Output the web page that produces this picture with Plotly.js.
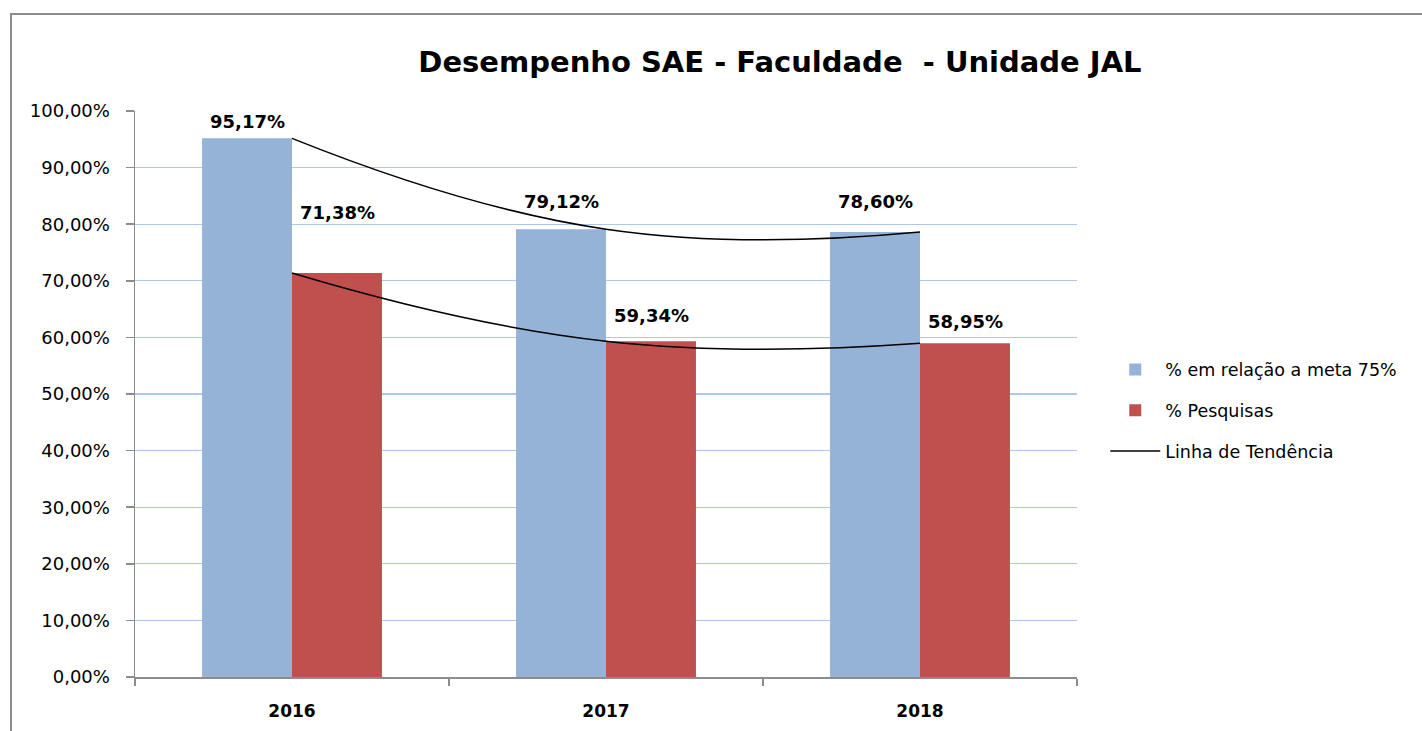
<!DOCTYPE html>
<html>
<head>
<meta charset="utf-8">
<script src="https://cdn.plot.ly/plotly-3.0.1.min.js"></script>
<style>
  html, body { margin: 0; padding: 0; background: #fff; }
  #frame { position: absolute; left: 10px; top: 13px; width: 1420px; height: 730px;
           border-left: 2px solid #8c8c8c; border-top: 2px solid #8c8c8c; pointer-events: none; z-index: 5; }
  #chart { position: absolute; left: 0; top: 0; width: 1422px; height: 731px; }
</style>
</head>
<body>
<div id="chart"></div>
<div id="frame"></div>
<script>
const years = ['2016', '2017', '2018'];
const metaValues = [95.17, 79.12, 78.60];
const pesquisaValues = [71.38, 59.34, 58.95];
const seriesNames = ['% em relação a meta 75%', '% Pesquisas', 'Linha de Tendência'];
const yTicks = [0, 10, 20, 30, 40, 50, 60, 70, 80, 90, 100];

const blue = '#95B3D7';
const red = '#C0504D';
const font = 'Tahoma, "DejaVu Sans", sans-serif';

function fmt(v) { return v.toFixed(2).replace('.', ',') + '%'; }

const traces = [
  { type: 'bar', name: seriesNames[0], x: years, y: metaValues, legendgroup: 'g1',
    marker: { color: blue, line: { width: 0 } }, hoverinfo: 'y' },
  { type: 'bar', name: seriesNames[1], x: years, y: pesquisaValues, legendgroup: 'g2',
    marker: { color: red, line: { width: 0 } }, hoverinfo: 'y' },
  { type: 'scatter', mode: 'lines', name: seriesNames[2], x: years, y: metaValues,
    line: { color: '#000', width: 1.5, shape: 'spline', smoothing: 1.3 }, legendgroup: 'trend', showlegend: true },
  { type: 'scatter', mode: 'lines', name: seriesNames[2], x: years, y: pesquisaValues,
    line: { color: '#000', width: 1.5, shape: 'spline', smoothing: 1.3 }, legendgroup: 'trend', showlegend: false }
];

const liftMeta = [17, 28, 31];
const liftPesq = [60, 26, 22];
const annotations = [];
years.forEach((yr, i) => {
  annotations.push({ x: i, y: metaValues[i], xref: 'x', yref: 'y', xshift: -45, yshift: liftMeta[i],
    text: '<b>' + fmt(metaValues[i]) + '</b>', showarrow: false, yanchor: 'middle',
    font: { family: font, size: 18, color: '#000' } });
  annotations.push({ x: i, y: pesquisaValues[i], xref: 'x', yref: 'y', xshift: 45, yshift: liftPesq[i],
    text: '<b>' + fmt(pesquisaValues[i]) + '</b>', showarrow: false, yanchor: 'middle',
    font: { family: font, size: 18, color: '#000' } });
});

const layout = {
  width: 1422, height: 731,
  margin: { l: 135, r: 345, t: 111, b: 54 },
  paper_bgcolor: '#fff', plot_bgcolor: '#fff',
  separators: ',.',
  barmode: 'group', bargap: 0.427, bargroupgap: 0,
  title: { text: '<b>Desempenho SAE - Faculdade  - Unidade JAL</b>',
    font: { family: font, size: 29, color: '#000' },
    xref: 'container', yref: 'container', x: 0.5485, xanchor: 'center', y: 0.915, yanchor: 'middle' },
  xaxis: { type: 'category', range: [-0.5, 2.5], autorange: false, showgrid: false, showline: true,
    linecolor: '#8c8c8c', linewidth: 1.5,
    ticks: 'outside', tickson: 'boundaries', ticklen: 7, tickcolor: '#8c8c8c', tickwidth: 1.5,
    tickangle: 0, ticklabelstandoff: 18,
    tickfont: { family: font, size: 17, color: '#000', weight: 'bold' } },
  yaxis: { range: [0, 100], autorange: false, tickmode: 'array', tickvals: yTicks,
    ticktext: yTicks.map(fmt),
    showgrid: true, gridcolor: '#AFC7EA', gridwidth: 1.3, zeroline: false,
    showline: true, linecolor: '#8c8c8c', linewidth: 1.5,
    ticks: 'outside', ticklen: 8, tickcolor: '#8c8c8c', tickwidth: 1.5,
    ticklabelstandoff: 12,
    tickfont: { family: font, size: 18, color: '#000' } },
  legend: { x: 1.03, xanchor: 'left', y: 0.575, yanchor: 'top', traceorder: 'grouped',
    font: { family: font, size: 17.5, color: '#000' }, tracegroupgap: 15, itemwidth: 50,
    bgcolor: 'rgba(0,0,0,0)' },
  annotations: annotations,
  showlegend: true
};

Plotly.newPlot('chart', traces, layout, { displayModeBar: false, staticPlot: true });
</script>
</body>
</html>
